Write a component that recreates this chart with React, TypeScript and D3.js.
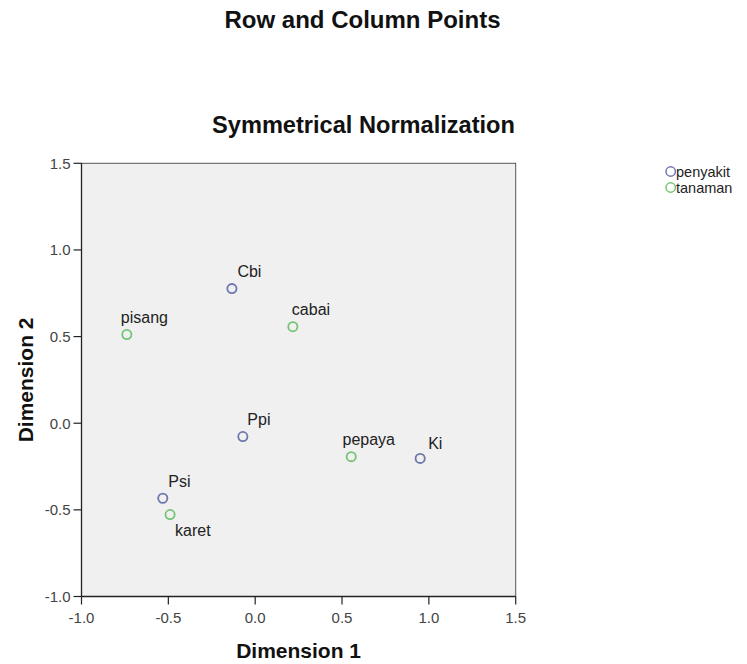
import React from "react";
import * as d3 from "d3";

// row points (penyakit) and column points (tanaman)
const penyakitNames = ["Cbi", "Ppi", "Ki", "Psi"];
const penyakitDim1 = [-0.134, -0.071, 0.95, -0.532];
const penyakitDim2 = [0.777, -0.077, -0.203, -0.433];

const tanamanNames = ["pisang", "cabai", "pepaya", "karet"];
const tanamanDim1 = [-0.739, 0.217, 0.553, -0.49];
const tanamanDim2 = [0.512, 0.557, -0.193, -0.527];

const tickValues = [-1.0, -0.5, 0.0, 0.5, 1.0, 1.5];
const legendLabels = ["penyakit", "tanaman"];

// label placement relative to the marker
const labelOffset: Record<string, [number, number]> = {
  Cbi: [5.5, -11.5],
  Ppi: [4.5, -11.5],
  Ki: [8, -9],
  Psi: [5.5, -11.5],
  pisang: [-6, -12],
  cabai: [-1, -11.7],
  pepaya: [-8.7, -11.7],
  karet: [5, 21.7],
};

const colors = ["#6e76ae", "#74c474"];
const font = "'Liberation Sans', Arial, sans-serif";

export default function App() {
  const width = 747, height = 664;
  const left = 81.5, right = 515.7, top = 163.3, bottom = 596.5;

  const x = d3.scaleLinear().domain([-1, 1.5]).range([left, right]);
  const y = d3.scaleLinear().domain([-1, 1.5]).range([bottom, top]);
  // plain hyphen minus like SPSS
  const fmt = (v: number) => v.toFixed(1);

  const groups = [
    { names: penyakitNames, d1: penyakitDim1, d2: penyakitDim2, color: colors[0] },
    { names: tanamanNames, d1: tanamanDim1, d2: tanamanDim2, color: colors[1] },
  ];

  return (
    <svg width={width} height={height} style={{ position: "absolute", left: 0, top: 0, background: "#fff" }}>
      <text x={362.5} y={28} textAnchor="middle" fontFamily={font} fontWeight="bold" fontSize={24} fill="#111">
        Row and Column Points
      </text>
      <text x={363.5} y={132.5} textAnchor="middle" fontFamily={font} fontWeight="bold" fontSize={23.6} fill="#111">
        Symmetrical Normalization
      </text>

      <rect x={left} y={top} width={right - left} height={bottom - top} fill="#f0f0f0" stroke="#555" strokeWidth={1} />
      <line x1={left} x2={left} y1={top} y2={bottom + 0.5} stroke="#222" strokeWidth={1.3} />
      <line x1={left} x2={right} y1={bottom} y2={bottom} stroke="#222" strokeWidth={1.3} />

      {tickValues.map((t) => (
        <g key={"x" + t}>
          <line x1={x(t)} x2={x(t)} y1={bottom} y2={bottom + 8} stroke="#222" strokeWidth={1.2} />
          <text x={x(t)} y={623} textAnchor="middle" fontFamily={font} fontSize={15} fill="#444">
            {fmt(t)}
          </text>
        </g>
      ))}
      {tickValues.map((t) => (
        <g key={"y" + t}>
          <line x1={left - 8} x2={left} y1={y(t)} y2={y(t)} stroke="#222" strokeWidth={1.2} />
          <text x={70.5} y={y(t)} dy="0.36em" textAnchor="end" fontFamily={font} fontSize={15} fill="#444">
            {fmt(t)}
          </text>
        </g>
      ))}

      <text x={(left + right) / 2} y={657.5} textAnchor="middle" fontFamily={font} fontWeight="bold" fontSize={21} fill="#111">
        Dimension 1
      </text>
      <text
        transform={`translate(32.5,${(top + bottom) / 2}) rotate(-90)`}
        textAnchor="middle"
        fontFamily={font}
        fontWeight="bold"
        fontSize={21}
        fill="#111"
      >
        Dimension 2
      </text>

      {groups.map((g) =>
        g.names.map((n, i) => {
          const px = x(g.d1[i]), py = y(g.d2[i]);
          const off = labelOffset[n];
          return (
            <g key={n}>
              <circle cx={px} cy={py} r={4.6} fill="none" stroke={g.color} strokeWidth={1.8} />
              <text x={px + off[0]} y={py + off[1]} fontFamily={font} fontSize={16} fill="#222">
                {n}
              </text>
            </g>
          );
        })
      )}

      {legendLabels.map((l, i) => (
        <g key={l}>
          <circle cx={670.7} cy={171.5 + i * 16} r={4.7} fill="none" stroke={colors[i]} strokeWidth={1.5} />
          <text x={676} y={176.5 + i * 16} fontFamily={font} fontSize={14.5} fill="#222">
            {l}
          </text>
        </g>
      ))}
    </svg>
  );
}
